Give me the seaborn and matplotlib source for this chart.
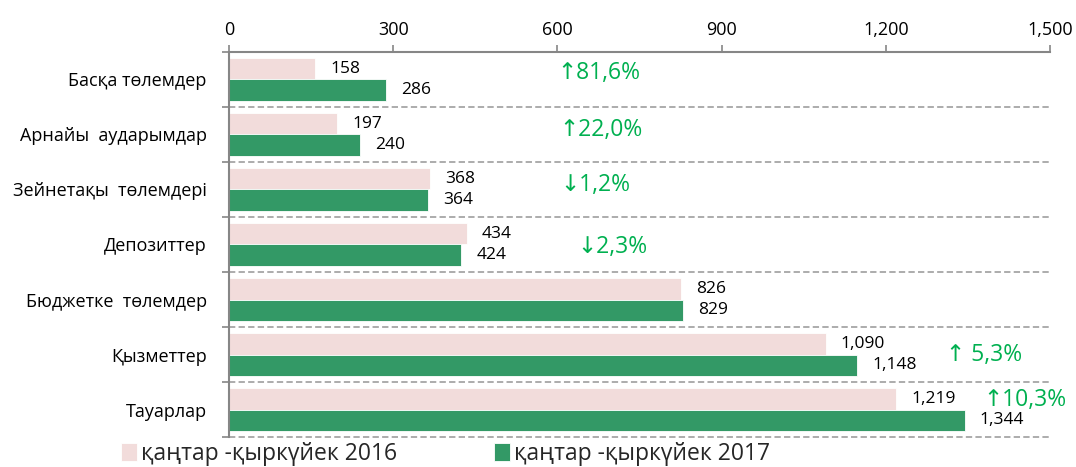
import matplotlib
matplotlib.use("Agg")
import matplotlib.pyplot as plt
from matplotlib.ticker import FuncFormatter, FixedLocator
import seaborn as sns
import pandas as pd

categories = ["Басқа төлемдер", "Арнайы  аударымдар", "Зейнетақы  төлемдері",
              "Депозиттер", "Бюджетке  төлемдер", "Қызметтер", "Тауарлар"]
series_names = ["қаңтар -қыркүйек 2016", "қаңтар -қыркүйек 2017"]
values_2016 = [158, 197, 368, 434, 826, 1090, 1219]
values_2017 = [286, 240, 364, 424, 829, 1148, 1344]
pct_labels = ["↑81,6%", "↑22,0%", "↓1,2%", "↓2,3%", "", "↑ 5,3%", "↑10,3%"]
x_ticks = [0, 300, 600, 900, 1200, 1500]

# annotation placement (data coords)
pct_x = [600, 603, 606, 637, 0, 1310, 1378]
pct_dy = [-0.12, -0.08, -0.08, 0.05, 0, 0.0, -0.17]

df = pd.DataFrame({
    "category": categories * 2,
    "series": [series_names[0]] * len(categories) + [series_names[1]] * len(categories),
    "value": values_2016 + values_2017,
})

sns.set_style("white")
plt.rcParams["font.family"] = ["Open Sans", "DejaVu Sans"]

fig = plt.figure(figsize=(10.76, 4.67), dpi=100)
ax = fig.add_axes([0.2128, 0.0642, 0.9758 - 0.2128, 0.8887 - 0.0642])

pink = "#F2DCDB"
green = "#339966"
sns.barplot(data=df, y="category", x="value", hue="series", orient="h",
            palette=[pink, green], saturation=1, width=0.78, ax=ax, legend=True,
            edgecolor="white", linewidth=0.6)

for cont in ax.containers:
    ax.bar_label(cont, fmt="{:,.0f}", padding=11, fontsize=12.5, color="black")

for i, lab in enumerate(pct_labels):
    if lab:
        ax.text(pct_x[i], i + pct_dy[i], lab, color="#00B050", fontsize=16.5,
                va="center", ha="left", family=["Open Sans", "DejaVu Sans"])

ax.set_xlim(0, 1500)
ax.set_ylim(6.5, -0.5)
ax.xaxis.tick_top()
ax.set_xticks(x_ticks)
ax.xaxis.set_major_formatter(FuncFormatter(lambda v, p: f"{v:,.0f}"))
ax.tick_params(axis="x", which="major", length=5, width=1.2, color="#868686",
               labelsize=13, pad=4, labelcolor="black")
ax.set_xlabel("")
ax.set_ylabel("")

ax.yaxis.set_minor_locator(FixedLocator([i - 0.5 for i in range(len(categories) + 1)]))
ax.tick_params(axis="y", which="major", length=0, labelsize=13, pad=16, labelcolor="black")
ax.tick_params(axis="y", which="minor", length=5, width=1.2, color="#868686", left=True)

for b in [i + 0.5 for i in range(len(categories))]:
    ax.axhline(b, color="#A6A6A6", lw=1.3, ls=(0, (3.5, 1.8)), clip_on=False, zorder=0.5)

for s in ["right", "bottom"]:
    ax.spines[s].set_visible(False)
for s in ["top", "left"]:
    ax.spines[s].set_visible(True)
    ax.spines[s].set_color("#868686")
    ax.spines[s].set_linewidth(1.5)

leg = ax.get_legend()
handles = leg.legend_handles
leg.remove()
fig.legend(handles, series_names, loc="lower center", bbox_to_anchor=(0.414, -0.042),
           ncol=2, frameon=False, fontsize=16.5, handlelength=0.7, handleheight=0.8,
           handletextpad=0.2, columnspacing=4.2)

fig.savefig("out.png", dpi=100)
